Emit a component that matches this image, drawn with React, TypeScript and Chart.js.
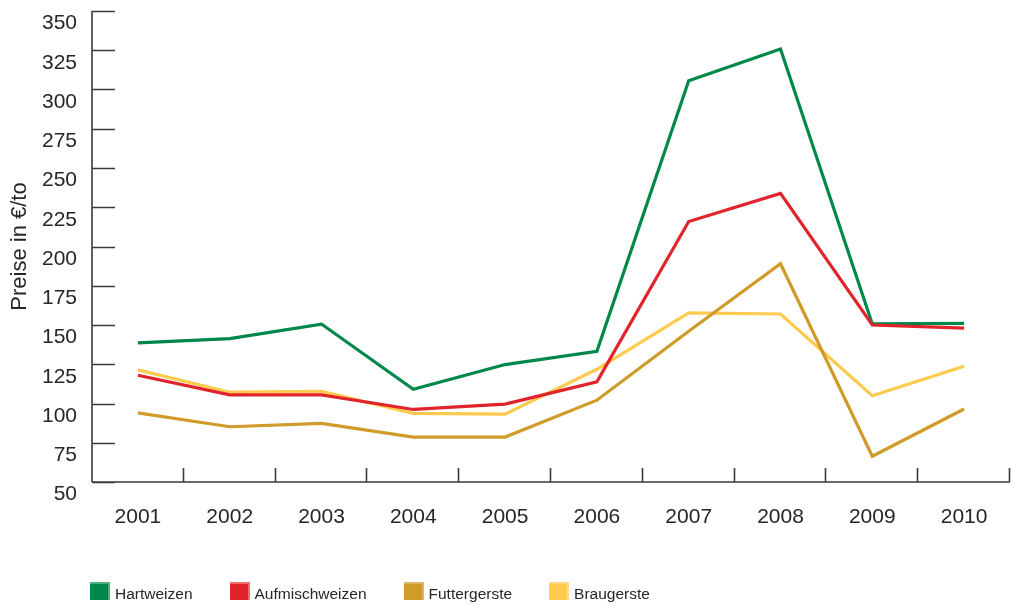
import React, { useEffect, useRef } from "react";
import { Chart, registerables } from "chart.js";

Chart.register(...registerables);

const years = ["2001", "2002", "2003", "2004", "2005", "2006", "2007", "2008", "2009", "2010"];
const hartweizen = [138.6, 141.3, 150.6, 109, 124.8, 133.3, 305.6, 325.8, 150.7, 151];
const aufmischweizen = [118, 105.5, 105.5, 96.2, 99.6, 113.8, 215.9, 233.8, 150, 148];
const futtergerste = [94, 85.2, 87.3, 78.6, 78.6, 102.1, 146, 189, 66.4, 96.5];
const braugerste = [121.4, 107.2, 107.7, 93.7, 93.2, 121.8, 157.7, 157, 105, 123.7];
const yTicks = { min: 50, max: 350, step: 25 };
const yTitle = "Preise in €/to";

const seriesNames = ["Hartweizen", "Aufmischweizen", "Futtergerste", "Braugerste"];
const seriesColors = ["#00884a", "#e1242b", "#d09b28", "#fecb4e"];
const seriesLight = ["#4fae7d", "#ec6d6a", "#ddb868", "#fedc86"];
const seriesData = [hartweizen, aufmischweizen, futtergerste, braugerste];
const seriesOrder = [3, 0, 1, 2];

const FONT = "'Liberation Sans', Arial, Helvetica, sans-serif";
const TEXT = "#262626";
const AXIS = "#3a3a3a";

const axisPlugin = {
  id: "axisMarks",
  beforeDatasetsDraw(chart: any) {
    const { ctx, chartArea } = chart;
    const x = chart.scales.x;
    const y = chart.scales.y;
    ctx.save();
    ctx.strokeStyle = AXIS;
    ctx.lineWidth = 1.6;
    ctx.beginPath();
    const top = y.getPixelForValue(yTicks.max);
    ctx.moveTo(chartArea.left, top);
    ctx.lineTo(chartArea.left, chartArea.bottom);
    y.ticks.forEach((t: any) => {
      const py = Math.round(y.getPixelForValue(t.value)) + 0.5;
      ctx.moveTo(chartArea.left, py);
      ctx.lineTo(chartArea.left + 23, py);
    });
    ctx.moveTo(chartArea.left, chartArea.bottom);
    ctx.lineTo(chartArea.right, chartArea.bottom);
    const n = years.length;
    for (let i = 0; i < n; i++) {
      const p0 = x.getPixelForValue(i);
      const p1 = i + 1 < n ? x.getPixelForValue(i + 1) : 2 * p0 - x.getPixelForValue(i - 1);
      const px = Math.round((p0 + p1) / 2) - 0.5;
      ctx.moveTo(px, chartArea.bottom);
      ctx.lineTo(px, chartArea.bottom - 14);
    }
    ctx.stroke();
    ctx.restore();
  },
};

function LineChart() {
  const ref = useRef<HTMLCanvasElement | null>(null);
  useEffect(() => {
    if (!ref.current) return;
    const chart = new Chart(ref.current, {
      type: "line",
      data: {
        labels: years,
        datasets: seriesNames.map((name, i) => ({
          label: name,
          data: seriesData[i],
          borderColor: seriesColors[i],
          backgroundColor: seriesColors[i],
          borderWidth: 3.2,
          pointRadius: 0,
          tension: 0,
          fill: false,
          order: seriesOrder[i],
        })),
      },
      options: {
        responsive: false,
        animation: false,
        devicePixelRatio: 1,
        layout: { autoPadding: false, padding: { top: 11, right: 4, left: 0, bottom: 0 } },
        plugins: { legend: { display: false }, tooltip: { enabled: false } },
        scales: {
          x: {
            type: "category",
            offset: true,
            grid: { display: false, drawTicks: false },
            border: { display: false },
            ticks: { font: { family: FONT, size: 21 }, color: TEXT, padding: 23, maxRotation: 0 },
            afterFit: (s: any) => {
              s.height = 124;
              s.paddingLeft = 0;
              s.paddingRight = 0;
            },
          },
          y: {
            min: yTicks.min,
            max: yTicks.max,
            grid: { display: false, drawTicks: false },
            border: { display: false },
            ticks: {
              stepSize: yTicks.step,
              font: { family: FONT, size: 21 },
              color: TEXT,
              padding: 15,
              labelOffset: 12.5,
            },
            title: {
              display: true,
              text: yTitle,
              font: { family: FONT, size: 22 },
              color: TEXT,
              padding: { top: 7, bottom: 0 },
            },
            afterFit: (s: any) => {
              s.width = 92;
              s.paddingTop = 0;
              s.paddingBottom = 0;
            },
          },
        },
      },
      plugins: [axisPlugin],
    } as any);
    return () => chart.destroy();
  }, []);
  return <canvas ref={ref} width={1014} height={606} style={{ display: "block" }} />;
}

export default function App() {
  return (
    <div style={{ position: "absolute", left: 0, top: 0, width: 1014, height: 606, background: "#fff" }}>
      <LineChart />
      <div
        style={{
          position: "absolute",
          left: 90,
          top: 582,
          display: "flex",
          alignItems: "flex-start",
          fontFamily: FONT,
          fontSize: 15.5,
          color: TEXT,
        }}
      >
        {seriesNames.map((name, i) => (
          <div key={name} style={{ display: "flex", alignItems: "flex-start", marginRight: 37 }}>
            <div
              style={{
                width: 18,
                height: 16,
                background: seriesColors[i],
                borderTop: `2px solid ${seriesLight[i]}`,
                borderRight: `2px solid ${seriesLight[i]}`,
              }}
            />
            <span style={{ marginLeft: 5, marginTop: 3, lineHeight: "18px", whiteSpace: "nowrap" }}>{name}</span>
          </div>
        ))}
      </div>
    </div>
  );
}
